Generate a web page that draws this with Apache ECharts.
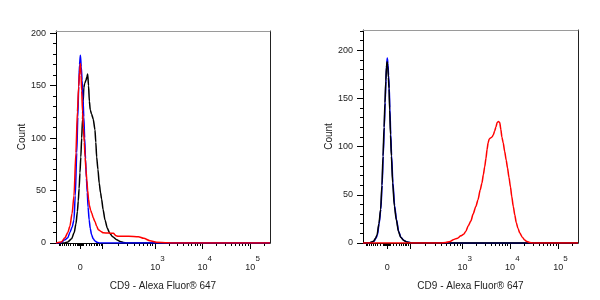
<!DOCTYPE html>
<html><head><meta charset="utf-8">
<script src="https://cdn.jsdelivr.net/npm/echarts@6/dist/echarts.min.js"></script>
<style>html,body{margin:0;padding:0;background:#fff}#c{width:600px;height:300px}</style>
</head><body><div id="c"></div>
<script>
// x values are display channels (0..1000 across the biexponential axis), y values are counts
const leftBlue = [[0,0],[20,0],[42,3],[55,5],[65,10],[75,15],[84,22],[90,45],[97,86],[102,120],[106,149],[110,170],[114,179],[118,168],[122,155],[126,138],[130,120],[134,100],[138,80],[142,62],[146,48],[150,34],[155,22],[160,14],[166,8],[174,4],[182,2],[192,0.7],[205,0],[1000,0]];
const leftRed = [[0,0],[3,0],[25,1],[42,5],[55,10],[65,16],[75,28],[84,45],[93,86],[100,125],[106,149],[110,163],[114,171],[117,160],[120,145],[124,125],[128,110],[132,96],[136,82],[140,70],[144,60],[148,50],[152,42],[156,36],[162,31],[167,28.5],[174,24],[182,20.5],[190,16],[198,12.7],[210,11],[221,9.7],[245,9.5],[268,9.3],[280,7],[290,6.5],[340,6.5],[385,6],[410,4.5],[439,2.2],[470,0.8],[520,0.2],[560,0],[1000,0]];
const leftBlack = [[0,0],[40,0],[55,1],[73,4],[85,10],[93,18],[100,30],[104,40],[108,52],[112,67],[116,82],[120,100],[124,118],[127,135],[130,148],[134,152],[140,155],[144,158],[148,161],[152,150],[156,135],[160,127],[166,123],[174,118],[182,108],[186,96],[190,82],[196,70],[202,57],[208,48],[213,42],[220,32],[229,22],[240,14],[252,9],[265,6],[284,3],[300,1.5],[315,0.5],[330,0],[1000,0]];

const rightBlue = [[0,0],[32,0],[42,1],[52,2],[60,5],[67,8],[75,20],[83,35],[89,60],[94,90],[99,120],[103,146],[107,170],[110,185],[113,192],[116,186],[119,174],[122,161],[125,140],[129,113],[133,91],[139,63],[147,39],[156,24],[166,12],[176,6],[191,2.5],[206,1],[226,0],[1000,0]];
const rightBlack = [[0,0],[30,0],[40,1],[50,2],[58,5],[65,8],[74,20],[82,35],[88,60],[93,90],[98,120],[102,145],[106,168],[109,182],[112,188],[115,184],[118,172],[121,160],[124,138],[128,112],[132,90],[138,62],[146,38],[155,24],[165,12],[175,6],[190,2.5],[205,1],[225,0],[1000,0]];
const rightRed = [[0,0],[360,0],[385,0.5],[405,1.5],[420,3.5],[440,5],[455,7.5],[468,9],[478,12],[490,18],[502,23],[512,30],[525,38],[535,45],[545,55],[553,62],[560,71],[566,79],[572,88],[577,97],[582,104],[587,108],[593,109],[600,110],[606,112],[612,116],[618,120],[624,125],[630,126],[636,125],[641,118],[646,110],[652,104],[659,95],[666,86],[672,78],[679,68],[686,58],[692,48],[699,38],[706,29],[713,21],[721,15],[730,10],[741,6],[752,3],[763,1.5],[775,0.5],[790,0],[1000,0]];

// axis ticks and labels
const xMajorTicks = [111, 218, 462, 683, 907];
const xLabelTicks = [111, 462, 683, 907];
const xLabelBase = ['0', '10', '10', '10'];
const xLabelExp = ['', '3', '4', '5'];
const xLinearMinorTicks = [14,22,30,37,47,58,68,81,92,98,103,107,115,119,124,128,143,156,167,178,187,195,203,210];
const decadeFractions = [0.301,0.477,0.602,0.699,0.778,0.845,0.903,0.954];
const yMajorTicks = [0, 50, 100, 150, 200];
const yMaxLeft = 202, yMaxRight = 221;
const xTitle = 'CD9 - Alexa Fluor® 647';
const yTitle = 'Count';

const xMinorTicks = xLinearMinorTicks.slice();
for (let i = 2; i < xMajorTicks.length; i++) {
  const a = xMajorTicks[i - 1], b = xMajorTicks[i];
  decadeFractions.forEach(f => xMinorTicks.push(a + f * (b - a)));
}
{
  const n = xMajorTicks.length;
  const last = xMajorTicks[n - 1];
  const w = xMajorTicks[n - 1] - xMajorTicks[n - 2];
  decadeFractions.forEach(f => { const v = last + f * w; if (v < 1000) xMinorTicks.push(v); });
}
function yMinor(max) { const r = []; for (let v = 10; v <= max; v += 10) r.push(v); return r; }

const FONT = 'Liberation Sans, Arial, Helvetica, sans-serif';
const grids = [
  {left: 56, top: 31, width: 214, height: 212},
  {left: 363, top: 30, width: 215, height: 213}
];
const ymaxes = [yMaxLeft, yMaxRight];

const xAxis = [], yAxis = [];
grids.forEach((g, i) => {
  xAxis.push({
    gridIndex: i, type: 'value', min: 0, max: 1000, position: 'bottom',
    axisLine: {onZero: false, lineStyle: {color: '#000', width: 1}},
    axisTick: {customValues: xMajorTicks, length: 6, lineStyle: {color: '#000', width: 1}},
    axisLabel: {
      customValues: xLabelTicks, margin: 12, color: '#222', fontFamily: FONT, fontSize: 9,
      formatter: v => {
        let k = 0, d = 1e9;
        xLabelTicks.forEach((t, j) => { if (Math.abs(t - v) < d) { d = Math.abs(t - v); k = j; } });
        return xLabelExp[k] ? '{sp| }{b|' + xLabelBase[k] + '}{s|' + xLabelExp[k] + '}' : '{h| }{b|' + xLabelBase[k] + '}';
      },
      rich: {
        b: {fontSize: 9, lineHeight: 10, verticalAlign: 'bottom', color: '#222', fontFamily: FONT},
        s: {fontSize: 8, lineHeight: 10, verticalAlign: 'top', color: '#222', fontFamily: FONT},
        sp: {width: 5, lineHeight: 17, fontSize: 8},
        h: {width: 1, lineHeight: 17, fontSize: 8}
      }
    },
    splitLine: {show: false},
    name: xTitle, nameLocation: 'middle', nameGap: 38,
    nameTextStyle: {fontSize: 10, color: '#222', fontFamily: FONT}
  });
  xAxis.push({
    gridIndex: i, type: 'value', min: 0, max: 1000, position: 'bottom',
    axisLine: {show: false, onZero: false},
    axisTick: {customValues: xMinorTicks, length: 3, lineStyle: {color: '#000', width: 1}},
    axisLabel: {show: false}, splitLine: {show: false}
  });
  xAxis.push({
    gridIndex: i, type: 'value', min: 0, max: 1000, position: 'top',
    axisLine: {show: true, onZero: false, lineStyle: {color: '#9a9a9a', width: 1}},
    axisTick: {show: false}, axisLabel: {show: false}, splitLine: {show: false}
  });

  yAxis.push({
    gridIndex: i, type: 'value', min: 0, max: ymaxes[i], position: 'left',
    axisLine: {show: true, onZero: false, lineStyle: {color: '#000', width: 1}},
    axisTick: {customValues: yMajorTicks, length: 6, lineStyle: {color: '#000', width: 1}},
    axisLabel: {customValues: yMajorTicks, margin: 10, color: '#222', fontFamily: FONT, fontSize: 9},
    splitLine: {show: false},
    name: yTitle, nameLocation: 'middle', nameGap: 29, nameRotate: 90,
    nameTextStyle: {fontSize: 10, color: '#222', fontFamily: FONT}
  });
  yAxis.push({
    gridIndex: i, type: 'value', min: 0, max: ymaxes[i], position: 'left',
    axisLine: {show: false, onZero: false},
    axisTick: {customValues: yMinor(ymaxes[i]), length: 3, lineStyle: {color: '#000', width: 1}},
    axisLabel: {show: false}, splitLine: {show: false}
  });
  yAxis.push({
    gridIndex: i, type: 'value', min: 0, max: ymaxes[i], position: 'right',
    axisLine: {show: true, onZero: false, lineStyle: {color: '#222', width: 1}},
    axisTick: {show: false}, axisLabel: {show: false}, splitLine: {show: false}
  });
});

function line(data, color, gi) {
  return {
    type: 'line', data: data, xAxisIndex: gi * 3, yAxisIndex: gi * 3,
    showSymbol: false, symbol: 'none', smooth: 0.25, smoothMonotone: 'x',
    lineStyle: {color: color, width: 1.5}, itemStyle: {color: color},
    silent: true, clip: true
  };
}

const chart = echarts.init(document.getElementById('c'));
chart.setOption({
  animation: false,
  backgroundColor: '#fff',
  grid: grids.map(g => Object.assign({outerBoundsMode: 'none', containLabel: false}, g)),
  xAxis: xAxis,
  yAxis: yAxis,
  series: [
    line(leftBlack, '#000000', 0),
    line(leftBlue, '#0000ff', 0),
    line(leftRed, '#ff0000', 0),
    line(rightBlue, '#0000ff', 1),
    line(rightBlack, '#000000', 1),
    line(rightRed, '#ff0000', 1)
  ]
});
</script>
</body></html>
